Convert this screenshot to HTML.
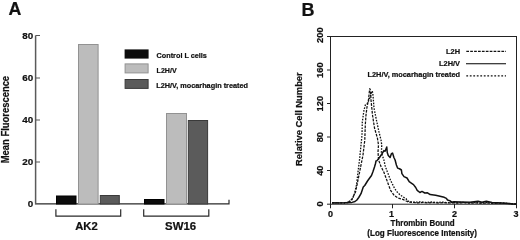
<!DOCTYPE html>
<html><head><meta charset="utf-8"><style>
html,body{margin:0;padding:0;background:#fff;}
svg{display:block;will-change:transform;}
text{font-family:"Liberation Sans",sans-serif;font-weight:bold;fill:#111;stroke:#111;stroke-width:0.22px;}
</style></head><body>
<svg width="520" height="240" viewBox="0 0 520 240">
<rect x="0" y="0" width="520" height="240" fill="#fff"/>
<!-- Panel A -->
<text x="8.5" y="15.2" font-size="17.8">A</text>
<text transform="translate(8.8,119.6) rotate(-90)" text-anchor="middle" font-size="10" textLength="87.4" lengthAdjust="spacingAndGlyphs">Mean Fluorescence</text>
<g font-size="9.8" text-anchor="end">
<text x="33.2" y="38.5">80</text>
<text x="33.2" y="81">60</text>
<text x="33.2" y="123.2">40</text>
<text x="33.2" y="165.1">20</text>
<text x="33.2" y="207.1">0</text>
</g>
<g stroke="#2a2a2a" stroke-width="1.2" fill="none">
<path d="M35.6 35.5V203" stroke="#5a5a5a" stroke-width="1.5"/>
<path d="M35.6 35.5H40M35.6 78H40M35.6 120H40M35.6 162H40" stroke="#555"/>
<path d="M34.9 203.9H229V199.8"/>
</g>
<!-- bars -->
<g stroke-width="1">
<rect x="56.5" y="196" width="19.5" height="8" fill="#0c0c0c" stroke="#000"/>
<rect x="78.5" y="44.5" width="19.6" height="159.5" fill="#bcbcbc" stroke="#929292"/>
<rect x="100.3" y="195.5" width="19" height="8.5" fill="#5b5b5b" stroke="#3a3a3a"/>
<rect x="144.5" y="199.5" width="19.5" height="4.5" fill="#0c0c0c" stroke="#000"/>
<rect x="166.5" y="113.5" width="20" height="90.5" fill="#bcbcbc" stroke="#929292"/>
<rect x="188.3" y="120.5" width="19.3" height="83.5" fill="#5b5b5b" stroke="#3a3a3a"/>
</g>
<g stroke="#2a2a2a" stroke-width="1.2" fill="none">
<path d="M55.9 209.2V216.2H120.7V209.2"/>
<path d="M143.7 209.2V216.2H208.8V209.2"/>
</g>
<text x="86.5" y="230.2" font-size="10.8" text-anchor="middle" textLength="22.5" lengthAdjust="spacingAndGlyphs">AK2</text>
<text x="180.6" y="230.2" font-size="10.8" text-anchor="middle" textLength="31" lengthAdjust="spacingAndGlyphs">SW16</text>
<!-- legend A -->
<rect x="124.6" y="49.4" width="24" height="9.2" fill="#0c0c0c"/>
<rect x="125.1" y="63.9" width="23" height="9" fill="#bcbcbc" stroke="#929292"/>
<rect x="125.1" y="79.5" width="23" height="8.9" fill="#5b5b5b" stroke="#3a3a3a"/>
<g font-size="7.4">
<text x="156.6" y="57.8" textLength="50.3" lengthAdjust="spacingAndGlyphs">Control L cells</text>
<text x="156.6" y="73.1" textLength="20" lengthAdjust="spacingAndGlyphs">L2H/V</text>
<text x="156.2" y="87.7" textLength="91.8" lengthAdjust="spacingAndGlyphs">L2H/V, mocarhagin treated</text>
</g>

<!-- Panel B -->
<text x="301.6" y="15.5" font-size="18">B</text>
<text transform="translate(302.1,119.1) rotate(-90)" text-anchor="middle" font-size="9.6" textLength="93.6" lengthAdjust="spacingAndGlyphs">Relative Cell Number</text>
<g font-size="9.3" text-anchor="middle">
<text transform="translate(323,35.2) rotate(-90)">200</text>
<text transform="translate(323,70.2) rotate(-90)">160</text>
<text transform="translate(323,103.7) rotate(-90)">120</text>
<text transform="translate(323,137.2) rotate(-90)">80</text>
<text transform="translate(323,170.7) rotate(-90)">40</text>
<text transform="translate(323,204) rotate(-90)">0</text>
</g>
<g stroke="#222" stroke-width="1" fill="none">
<rect x="330.5" y="36.5" width="186" height="167.7"/>
<path d="M327 36.5H330.5M327 70H330.5M327 103.5H330.5M327 137H330.5M327 170.5H330.5M327 204.2H330.5"/>
<path d="M330.5 204V208.3M392.5 204V208.3M454.5 204V208.3M516.5 204V208.3"/>
</g>
<g font-size="9" text-anchor="middle">
<text x="330.5" y="216.8">0</text>
<text x="391.4" y="216.8">1</text>
<text x="454.6" y="216.8">2</text>
<text x="516" y="216.8">3</text>
</g>
<text x="422.6" y="226.2" font-size="8.6" text-anchor="middle" textLength="64" lengthAdjust="spacingAndGlyphs">Thrombin Bound</text>
<text x="422.2" y="236.4" font-size="8.5" text-anchor="middle" textLength="109.7" lengthAdjust="spacingAndGlyphs">(Log Fluorescence Intensity)</text>
<!-- legend B -->
<g font-size="7.4" text-anchor="end">
<text x="460" y="54">L2H</text>
<text x="460" y="66.3">L2H/V</text>
<text x="460" y="77.3" textLength="92.5" lengthAdjust="spacingAndGlyphs">L2H/V, mocarhagin treated</text>
</g>
<g stroke="#111" stroke-width="1.1" fill="none">
<path d="M466.3 51.3H506" stroke-width="1.2" stroke-dasharray="2.7 1.2"/>
<path d="M466 63.7H506" stroke-width="1.15" stroke="#000"/>
<path d="M466.3 75.8H506" stroke-width="1.35" stroke-dasharray="1.8 1.7"/>
</g>
<!-- curves -->
<g fill="none" stroke="#111" stroke-linejoin="round">
<polyline stroke-width="1.25" stroke-dasharray="2.7 1.2" points="332,202.6 340,202.8 346,202.4 349,201.5 352,199 355.5,192 357,185 358,180 360,170 363,155 364.8,140 365.3,125 366,115 367,107 368.5,100 369.3,92 369.8,88.6 370.5,90.5 371,100 372.5,115 374.5,128 377.5,138.5 378.5,145 378,152 378.6,160 381,166.5 383.8,172 386.4,179 388.5,184.75 390.6,190.4 394.2,195.4 398.4,198.2 403.4,199.6 406.2,201 409,202.2 413,202.4 418,202.9 423,202.4 428,202.9 433,202.5 438,203 443,202.6 448,203 453,202.7 458,203.1 464,202.7 470,203.1 476,202.8 482,203.2 488,202.9 494,203.3 500,203.1 508,203.5 516,204"/>
<polyline stroke-width="1.3" stroke-dasharray="1.6 1.3" points="332,202.8 345,203 348,202.6 351.5,200.5 354,195.5 356.5,185 358,172 359.5,160 361,145 362,135 362.3,122 364,110 365.5,104.5 367,104 369,100 371.5,93 372.2,91 372.8,93 374,108 376,118 379,132 381,140 381.75,145 381.4,152.5 383.9,160 385.2,166 387.2,171.5 388.5,174.8 390.6,180.5 394.2,187.6 396.3,191.1 399.8,194.7 404,197.5 406.2,198.9 407.6,201 410.5,201.7 415,202.3 420,201.9 426,202.4 431,202 437,202.5 442,202.1 447,202.6 452,202.2 457,202.7 462,202.3 468,202.8 474,202.4 480,202.9 486,202.5 492,203 498,202.7 505,203.2 516,204"/>
<polyline stroke-width="1.5" points="332,203 345,202.8 352,202.4 355,201.5 356.9,200 358.75,197.5 361,193.7 363.25,187 364.75,185.5 367.5,181 369.3,178.5 371.5,175.5 373,171.5 374.5,167 375.5,163.5 376,161 377,160.6 379.5,157.5 382,153.75 383.9,150.6 385.1,151.25 386.75,146.9 387.25,152.5 388.25,155.6 390.1,157.5 391.4,153.75 392.6,153.1 393.9,157.5 395.1,160 395.75,162.5 396.4,165 397.6,168.1 399.5,168.75 401.4,170 401.9,173.6 404,176.6 407,178 409.2,181.7 411.3,183.1 413.5,184.6 415.7,187.5 417.2,190.3 419.9,192.5 422,191.4 424.75,193 427.5,192.8 430.2,194.6 435.6,195.2 440,196.25 444.25,197.3 446.4,198.4 447.5,200 449.7,200.6 451.8,202.2 454,201.7 460,202 470,202.3 478,201.2 482,202.3 486.3,201.2 492,202.5 505,203.2 516,204.2"/>
</g>
</svg>
</body></html>
